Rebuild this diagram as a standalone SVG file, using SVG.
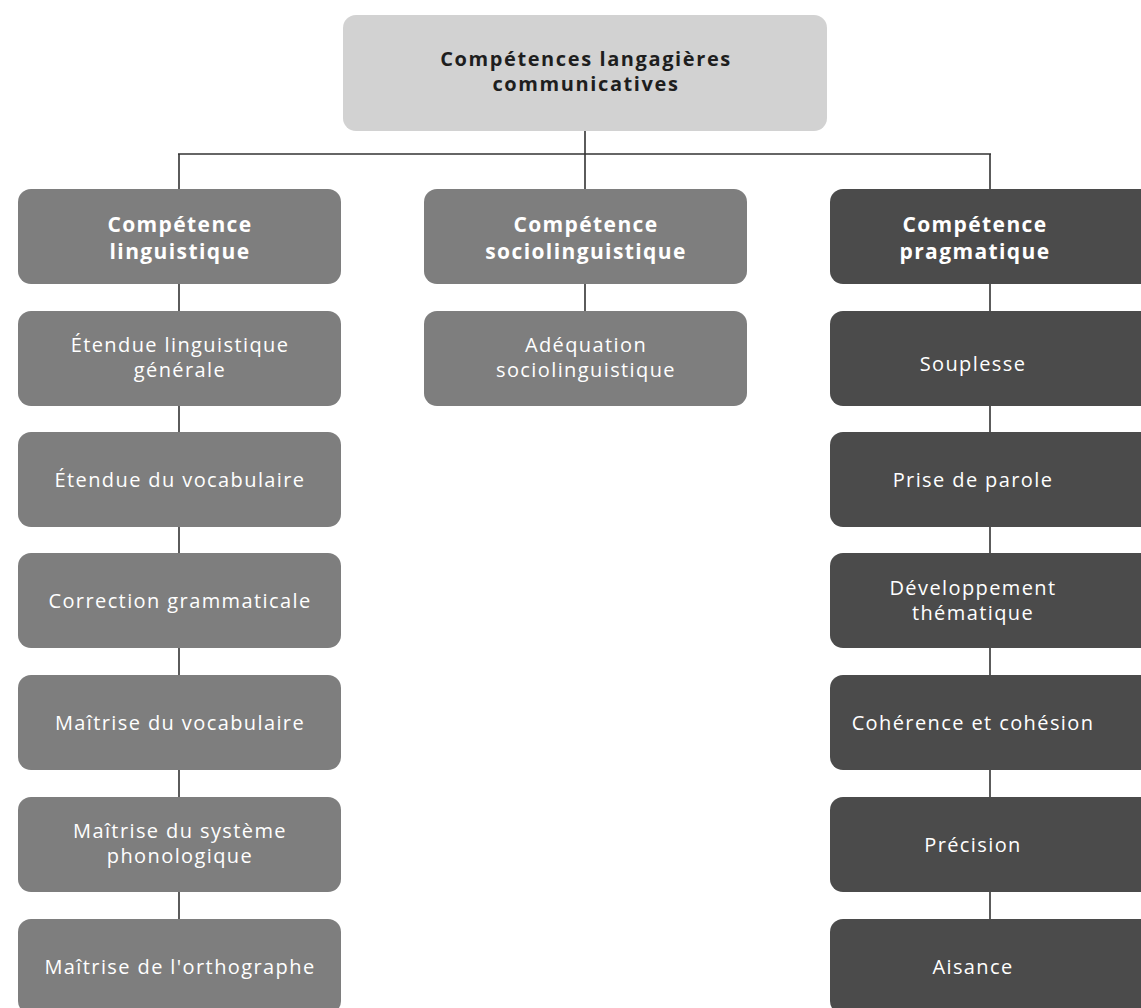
<svg xmlns="http://www.w3.org/2000/svg" width="1141" height="1008" viewBox="0 0 1141 1008">
<style>
.bg{fill:#ffffff}
.top rect{fill:#d2d2d2}
.mid rect{fill:#7e7e7e}
.dark rect{fill:#4b4b4b}
text{font-family:"Open Sans","Liberation Sans",sans-serif;text-anchor:middle}
.top text{fill:#1e1e1e;font-weight:bold;font-size:20px;letter-spacing:1.6px}
.hd text{fill:#ffffff;font-weight:bold;font-size:21px;letter-spacing:1.4px}
.sub text{fill:#ffffff;font-size:20px;letter-spacing:1.4px}
.conn line{stroke:#333333;stroke-width:1.6}
</style>
<rect class="bg" x="0" y="0" width="1141" height="1008"/>
<g class="conn" id="connectors">
<line x1="585" y1="131" x2="585" y2="154"/>
<line x1="178" y1="154" x2="991" y2="154"/>
<line x1="179" y1="154" x2="179" y2="189"/>
<line x1="585" y1="154" x2="585" y2="189"/>
<line x1="990" y1="154" x2="990" y2="189"/>
<line x1="179" y1="284" x2="179" y2="311"/>
<line x1="179" y1="405" x2="179" y2="432"/>
<line x1="179" y1="527" x2="179" y2="553"/>
<line x1="179" y1="648" x2="179" y2="675"/>
<line x1="179" y1="770" x2="179" y2="797"/>
<line x1="179" y1="892" x2="179" y2="919"/>
<line x1="585" y1="284" x2="585" y2="311"/>
<line x1="990" y1="284" x2="990" y2="311"/>
<line x1="990" y1="405" x2="990" y2="432"/>
<line x1="990" y1="527" x2="990" y2="553"/>
<line x1="990" y1="648" x2="990" y2="675"/>
<line x1="990" y1="770" x2="990" y2="797"/>
<line x1="990" y1="892" x2="990" y2="919"/>
</g>
<g class="top" id="n-root"><rect x="343" y="15" width="484" height="116" rx="13"/><text x="586" y="66">Compétences langagières</text><text x="586" y="91">communicatives</text></g>

<g class="mid hd" id="n-ling"><rect x="18" y="189" width="323" height="95" rx="13"/><text x="180" y="232">Compétence</text><text x="180" y="259">linguistique</text></g>
<g class="mid sub" id="n-ling1"><rect x="18" y="311" width="323" height="95" rx="13"/><text x="180" y="352">Étendue linguistique</text><text x="180" y="377">générale</text></g>
<g class="mid sub" id="n-ling2"><rect x="18" y="432" width="323" height="95" rx="13"/><text x="180" y="487">Étendue du vocabulaire</text></g>
<g class="mid sub" id="n-ling3"><rect x="18" y="553" width="323" height="95" rx="13"/><text x="180" y="608">Correction grammaticale</text></g>
<g class="mid sub" id="n-ling4"><rect x="18" y="675" width="323" height="95" rx="13"/><text x="180" y="730">Maîtrise du vocabulaire</text></g>
<g class="mid sub" id="n-ling5"><rect x="18" y="797" width="323" height="95" rx="13"/><text x="180" y="838">Maîtrise du système</text><text x="180" y="863">phonologique</text></g>
<g class="mid sub" id="n-ling6"><rect x="18" y="919" width="323" height="95" rx="13"/><text x="180" y="974">Maîtrise de l'orthographe</text></g>

<g class="mid hd" id="n-socio"><rect x="424" y="189" width="323" height="95" rx="13"/><text x="586" y="232">Compétence</text><text x="586" y="259">sociolinguistique</text></g>
<g class="mid sub" id="n-socio1"><rect x="424" y="311" width="323" height="95" rx="13"/><text x="586" y="352">Adéquation</text><text x="586" y="377">sociolinguistique</text></g>

<g class="dark hd" id="n-prag"><rect x="830" y="189" width="323" height="95" rx="13"/><text x="975" y="232">Compétence</text><text x="975" y="259">pragmatique</text></g>
<g class="dark sub" id="n-prag1"><rect x="830" y="311" width="323" height="95" rx="13"/><text x="973" y="371">Souplesse</text></g>
<g class="dark sub" id="n-prag2"><rect x="830" y="432" width="323" height="95" rx="13"/><text x="973" y="487">Prise de parole</text></g>
<g class="dark sub" id="n-prag3"><rect x="830" y="553" width="323" height="95" rx="13"/><text x="973" y="595">Développement</text><text x="973" y="620">thématique</text></g>
<g class="dark sub" id="n-prag4"><rect x="830" y="675" width="323" height="95" rx="13"/><text x="973" y="730">Cohérence et cohésion</text></g>
<g class="dark sub" id="n-prag5"><rect x="830" y="797" width="323" height="95" rx="13"/><text x="973" y="852">Précision</text></g>
<g class="dark sub" id="n-prag6"><rect x="830" y="919" width="323" height="95" rx="13"/><text x="973" y="974">Aisance</text></g>
</svg>
